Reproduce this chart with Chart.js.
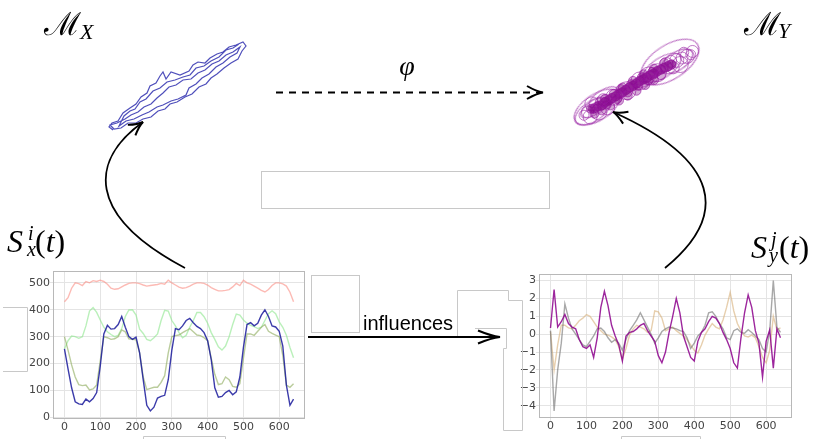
<!DOCTYPE html>
<html>
<head>
<meta charset="utf-8">
<script src="https://cdn.jsdelivr.net/npm/chart.js@4.4.1/dist/chart.umd.min.js"></script>
<style>
  html, body { margin: 0; padding: 0; background: #fff; }
  #page { position: relative; width: 818px; height: 439px; overflow: hidden; }
  canvas { position: absolute; display: block; }
  #overlay { position: absolute; left: 0; top: 0; }
</style>
</head>
<body>
<div id="page">
  <canvas id="embedX" width="165" height="115" style="left:95px;top:30px"></canvas>
  <canvas id="embedY" width="160" height="110" style="left:560px;top:30px"></canvas>
  <canvas id="seriesX" width="312" height="177" style="left:0;top:262px"></canvas>
  <canvas id="seriesY" width="313" height="177" style="left:505px;top:262px"></canvas>

  <svg id="overlay" width="818" height="439">
    <g fill="none" stroke="#c8c8c8" stroke-width="1">
      <rect x="261.5" y="171.5" width="288" height="37"/>
      <rect x="311.5" y="275.5" width="48" height="57"/>
      <polyline points="475,328.5 506.5,328.5 506.5,348.5 503.5,348.5 503.5,430.5 522.5,430.5 522.5,300.5 508.5,300.5 508.5,290.5 457.5,290.5 457.5,337"/>
      <polyline points="3,307.5 27.5,307.5 27.5,371.5 3,371.5"/>
      <polyline points="143.5,439 143.5,436.5 225.5,436.5 225.5,439"/>
      <polyline points="621.5,439 621.5,436.5 700.5,436.5 700.5,439"/>
    </g>
    <g id="arrows" fill="none" stroke="#000" stroke-width="2" stroke-linecap="butt">
      <line x1="276" y1="92.5" x2="541" y2="92.5" stroke-dasharray="7 6"/>
      <line x1="308" y1="337" x2="498" y2="337"/>
      <path d="M185 268 C 85 215, 90 160, 143 122" stroke-width="1.8"/>
      <path d="M665 268 C 730 215, 720 160, 613 112" stroke-width="1.8"/>
    </g>
    <g font-family="Liberation Serif" font-style="italic" fill="#000">
      <text x="44" y="35" font-family="DejaVu Serif" font-style="normal" font-size="32">ℳ</text>
      <text x="80" y="39" font-size="22">X</text>
      <text x="744" y="35" font-family="DejaVu Serif" font-style="normal" font-size="32">ℳ</text>
      <text x="778" y="38" font-size="22">Y</text>
      <text x="407" y="75" text-anchor="middle" font-size="28">φ</text>

      <text x="7" y="252" font-size="32">S</text>
      <text x="28" y="240" font-size="20">i</text>
      <text x="27" y="256" font-size="20">x</text>
      <text x="35" y="252" font-size="32"><tspan font-style="normal">(</tspan>t<tspan font-style="normal">)</tspan></text>

      <text x="751" y="258" font-size="32">S</text>
      <text x="771" y="246" font-size="20">j</text>
      <text x="769" y="262" font-size="20">y</text>
      <text x="779" y="258" font-size="32"><tspan font-style="normal">(</tspan>t<tspan font-style="normal">)</tspan></text>

      <text x="363" y="329.5" font-family="Liberation Sans" font-style="normal" font-size="20">influences</text>
    </g>
  </svg>
</div>

<script>
// sample times shared by every series
const steps = [0,10,20,30,40,50,60,70,80,90,100,110,120,130,140,150,160,170,180,190,
  200,210,220,230,240,250,260,270,280,290,300,310,320,330,340,350,360,370,380,390,
  400,410,420,430,440,450,460,470,480,490,500,510,520,530,540,550,560,570,580,590,
  600,610,620,630,640];
const xTicks = [0,100,200,300,400,500,600];

// source signals S_x
const sxRed = [430,445,480,500,497,490,505,500,508,505, 510,505,495,480,476,478,485,492,498,500,
  500,497,492,488,490,492,494,498,495,510, 500,492,484,480,482,488,495,500,500,498,
  492,482,476,470,470,472,475,485,498,490, 510,500,495,488,480,472,466,475,490,500,
  500,496,488,465,430];
const sxLight = [255,285,302,300,294,300,340,395,408,390, 362,335,318,308,300,305,330,375,399,400,
  380,328,312,290,285,296,310,360,398,395, 360,340,315,296,305,335,360,390,390,374,
  350,315,290,262,250,265,300,345,384,380, 362,350,342,337,330,335,360,385,396,385,
  355,335,305,260,222];
const sxOlive = [300,250,195,150,122,118,120,102,106,120, 210,300,296,290,292,300,325,318,292,290,
  288,240,150,103,108,112,112,130,155,240, 300,304,306,315,322,330,318,306,304,296,
  285,220,160,122,125,150,140,115,112,125, 220,310,310,305,320,335,345,320,312,306,
  300,230,120,112,125];
const sxBlue = [255,180,110,58,50,48,68,58,70,92, 190,310,342,328,330,345,375,335,300,290,
  298,240,140,45,24,38,72,78,82,140, 250,330,326,340,360,368,352,338,330,315,
  285,215,110,75,78,92,100,84,95,150, 260,345,352,340,350,380,400,375,340,336,
  320,265,120,45,68];

// target signals S_y
const syPurple = [0.35,2.5,0.4,0.7,1.1,0.6,0.4,0.3,-0.3,-0.7, -0.8,-0.6,-1.3,-0.2,1.5,2.4,1.6,0.5,-0.1,-0.6,
  -1.5,-0.1,0.1,0.15,0.3,0.5,0.6,0.2,-0.1,-0.4, -1.2,-1.6,-1.0,0.1,1.0,2.0,1.2,-0.1,-0.7,-1.3,
  -1.5,-0.4,0.1,0.3,0.7,1.0,0.9,0.6,0.1,-0.3, -0.8,-1.6,-1.9,-0.2,1.2,2.2,1.5,0.2,-0.5,-2.4,
  -0.4,0.25,-1.9,0.3,-0.2];
const syGray = [0.2,-4.3,-2.0,-0.5,1.7,0.9,0.3,0.0,-0.3,-0.6, -0.7,-0.4,-0.1,0.3,0.35,0.15,-0.2,-0.45,-0.3,-0.5,
  -0.9,-0.3,0.2,0.5,0.8,1.2,0.8,0.4,0.0,-0.5, -0.2,0.15,0.3,0.4,0.35,0.3,0.2,0.15,-0.2,-0.8,
  -0.5,-0.1,0.1,0.5,1.2,1.25,1.0,0.6,0.3,-0.2, -0.3,0.2,0.3,0.1,0.05,0.25,0.1,-0.1,-0.3,-0.8,
  -1.0,0.2,3.0,0.4,0.1];
const syTan = [0.15,-2.0,-0.6,0.5,0.5,0.35,0.3,0.5,0.75,0.9, 1.1,1.0,0.7,0.4,0.2,0.0,-0.05,-0.15,-0.3,-0.7,
  -1.4,-0.8,-0.05,0.3,0.5,0.4,0.3,0.1,0.2,1.3, 1.25,0.9,0.2,0.3,0.4,0.2,0.05,-0.1,-0.3,-0.6,
  -0.9,-1.05,-0.6,-0.05,0.3,0.6,0.4,0.3,0.8,1.5, 2.35,1.3,0.6,0.2,-0.1,-0.15,-0.05,-0.2,-0.7,-1.3,
  -1.6,-0.9,1.0,0.25,0.35];

// delay embedding of X (trajectory)
const embX = [1.8,1.4,1.7,2.3,2.8,3.5,4.1,4.6,5.2,5.5, 6.1,6.5,6.8,7.1,7.6,8.5,9.4,9.8,10.3,11.0,
  11.5,12.2,12.8,13.4,14.1,14.8,15.1,14.7,14.3,13.6, 12.9,12.2,11.6,11.1,10.4,9.7,9.0,8.2,7.5,7.0,
  6.3,5.6,4.8,4.1,3.3,2.6,1.9,1.5,2.2,3.0, 3.6,4.3,4.9,5.6,6.2,6.8,7.4,8.1,8.8,9.6,
  10.3,11.0,11.7,12.4,13.1,13.8,14.5,14.2,13.5,12.8, 12.1,11.4,10.7,10.1,
  9.4,9.1,8.3,7.6,6.8,6.2,5.4,4.7,3.9,3.1,2.4,
  2.9,3.5,4.0,4.5,5.1,5.8,6.5,7.2,8.0,8.8,9.5,10.1,10.9,11.6,12.4,13.1,13.8,14.4];
const embY = [1.5,1.8,2.2,2.4,3.2,3.7,4.1,4.8,5.2,5.9, 6.2,6.9,7.3,6.6,7.3,7.0,7.4,8.0,8.3,8.2,
  8.7,9.1,9.3,9.8,10.0,10.3,9.9,9.4,8.6,8.2, 7.7,7.1,6.7,6.1,5.8,5.1,4.8,4.3,4.1,3.6,
  3.4,2.8,2.6,2.2,2.2,1.7,1.6,2.0,2.2,2.6, 3.0,3.3,3.8,4.1,4.7,5.2,5.8,6.0,6.5,6.6,
  7.2,7.5,8.1,8.4,9.0,9.3,9.8,9.2,8.8,8.2, 7.8,7.1,6.7,6.1,
  5.7,5.0,4.6,4.4,4.0,3.8,3.3,3.0,2.6,2.4,1.9,
  2.9,3.4,3.6,4.3,4.6,5.4,5.7,6.3,6.5,6.8,7.0,7.7,7.9,8.4,8.8,9.5,9.7,10.1];

// embedding of Y: trace through the core, scattered states, rings and spread ellipses
const traceX = [2.6,3.2,3.6,4.0,4.4,4.8,5.2,5.6,6.0,6.4,6.8,7.2,7.6,8.0,8.4,8.8,9.2,9.6,10.0,10.4,10.8,11.2,11.6];
const traceY = [2.6,2.9,3.0,3.4,3.6,3.9,4.1,4.4,4.6,4.9,5.2,5.4,5.7,6.0,6.2,6.4,6.7,6.9,7.2,7.4,7.6,7.8,8.0];
const coreX = [2.8,3.2,3.6,4.0,4.4,4.8,5.2,5.6,6.0,6.4,6.8,7.2,7.6,8.0,8.4,8.8,9.2,9.6,10.0,10.4,10.8,11.2,11.6,
  4.2,5.4,6.6,7.8,9.0,5.8,7.0,8.2,9.4,
  3.6,4.6,5.6,6.6,7.6,8.6,9.6,10.4, 4.0,5.0,6.0,7.2,8.4,9.6,10.8, 2.8,2.4,3.4];
const coreY = [2.6,2.9,3.0,3.4,3.6,3.9,4.1,4.4,4.6,4.9,5.2,5.4,5.7,6.0,6.2,6.4,6.7,6.9,7.2,7.4,7.6,7.8,8.0,
  3.1,3.8,4.6,5.4,6.1,5.0,5.6,6.4,7.1,
  2.4,3.0,3.6,4.2,4.8,5.5,6.1,6.7, 3.8,4.4,5.2,6.0,6.8,7.5,8.2, 2.0,2.6,3.4];
const ringX = [2.0,2.5,3.3,3.8,1.6,2.3,4.3, 11.5,12.2,12.8,13.4,13.8,12.6,11.0,11.8,13.0, 10.0,9.0,8.0,6.5,5.0,14.0];
const ringY = [2.2,3.2,2.2,3.7,1.8,1.6,2.7, 8.4,8.5,8.8,9.0,9.2,8.0,8.0,7.6,9.5, 7.0,6.6,6.0,4.8,4.0,9.6];
const ringR = [6,7,8,6,5,7,7, 6,7,6,7,5,8,7,6,5, 9,9,9,9,8,6];
const ellX = [11.4,3.1,3.0,12.2,3.8,8.7,10.5,2.6];
const ellY = [8.3,2.8,2.9,8.4,4.0,6.2,7.6,2.3];
const spreadMajor = [33,26,18,18,16,12,22,20];
const spreadMinor = [17,13,7,9,7,6,10,10];

const pts = (xs, ys) => xs.map((x, i) => ({ x: x, y: ys[i] }));

// box round the plot area
const frame = {
  id: 'frame',
  afterDraw(chart) {
    const a = chart.chartArea, ctx = chart.ctx;
    ctx.save();
    ctx.strokeStyle = '#b8b8b8';
    ctx.lineWidth = 1;
    ctx.strokeRect(Math.round(a.left) + 0.5, Math.round(a.top) + 0.5,
                   Math.round(a.width) - 1, Math.round(a.height) - 1);
    ctx.restore();
  }
};

const tickFont = { family: 'DejaVu Sans', size: 11 };
const minus = v => String(v).replace('-', '\u2212');

function seriesChart(id, datasets, y, yWidth, xHeight, pad) {
  return new Chart(document.getElementById(id), {
    type: 'line',
    data: { datasets: datasets },
    options: {
      responsive: false,
      animation: false,
      layout: { padding: pad },
      plugins: { legend: { display: false }, tooltip: { enabled: false } },
      elements: { point: { radius: 0 }, line: { borderWidth: 1.4, tension: 0 } },
      scales: {
        x: {
          type: 'linear', min: -32, max: 672,
          afterBuildTicks: s => { s.ticks = xTicks.map(v => ({ value: v })); },
          ticks: { font: tickFont, color: '#444', padding: -1, maxRotation: 0 },
          grid: { color: '#e4e4e4', tickLength: 3 },
          border: { display: false },
          afterFit: s => { s.height = xHeight; }
        },
        y: {
          min: y.min, max: y.max,
          afterBuildTicks: s => { s.ticks = y.ticks.map(v => ({ value: v })); },
          ticks: { font: tickFont, color: '#444', padding: 0, callback: minus },
          grid: { color: '#e4e4e4', tickLength: 3 },
          border: { display: false },
          afterFit: s => { s.width = yWidth; }
        }
      }
    },
    plugins: [frame]
  });
}

function line(xs, ys, color) {
  return { data: pts(xs, ys), borderColor: color, fill: false };
}

seriesChart('seriesX', [
  line(steps, sxBlue, 'rgba(25,25,155,0.85)'),
  line(steps, sxOlive, 'rgba(140,170,90,0.6)'),
  line(steps, sxLight, 'rgba(140,230,140,0.6)'),
  line(steps, sxRed, 'rgba(250,140,130,0.6)')
], { min: -6, max: 544, ticks: [0, 100, 200, 300, 400, 500] }, 53, 20,
   { left: 0, top: 9, right: 7, bottom: 0 });

seriesChart('seriesY', [
  line(steps, syPurple, 'rgba(140,0,140,0.85)'),
  line(steps, syGray, 'rgba(110,110,110,0.6)'),
  line(steps, syTan, 'rgba(215,175,120,0.6)')
], { min: -4.69, max: 3.37, ticks: [-4, -3, -2, -1, 0, 1, 2, 3] }, 34, 21,
   { left: 0, top: 12, right: 26, bottom: 0 });

// embeddings: no axes, plot area fills the canvas
function embedOptions(xMax, yMax) {
  return {
    responsive: false,
    animation: false,
    layout: { padding: 0 },
    plugins: { legend: { display: false }, tooltip: { enabled: false } },
    scales: {
      x: { type: 'linear', min: 0, max: xMax, display: false },
      y: { type: 'linear', min: 0, max: yMax, display: false }
    }
  };
}

new Chart(document.getElementById('embedX'), {
  type: 'scatter',
  data: { datasets: [{
    data: pts(embX, embY), showLine: true, pointRadius: 0,
    borderColor: 'rgba(35,35,170,0.8)', borderWidth: 1.2, tension: 0, clip: false
  }] },
  options: embedOptions(16.5, 11.5)
});

function ellipseSprite(a, b) {
  const c = document.createElement('canvas');
  c.width = 2 * a + 4;
  c.height = 2 * b + 4;
  const g = c.getContext('2d');
  g.strokeStyle = 'rgba(160,50,170,0.7)';
  g.lineWidth = 1.2;
  g.beginPath();
  g.ellipse(c.width / 2, c.height / 2, a, b, 0, 0, Math.PI * 2);
  g.stroke();
  return c;
}

new Chart(document.getElementById('embedY'), {
  type: 'scatter',
  data: { datasets: [
    { data: pts(coreX, coreY), pointRadius: 4.5, borderWidth: 1,
      borderColor: 'rgba(150,20,160,0.6)', backgroundColor: 'rgba(135,10,140,0.35)', clip: false },
    { data: pts(traceX, traceY), showLine: true, pointRadius: 0, borderWidth: 10,
      borderColor: 'rgba(135,10,140,0.6)', borderCapStyle: 'round', clip: false },
    { type: 'bubble', data: ringX.map((x, i) => ({ x: x, y: ringY[i], r: ringR[i] })),
      backgroundColor: 'rgba(0,0,0,0)', borderColor: 'rgba(160,50,170,0.65)', borderWidth: 1, clip: false },
    { data: pts(ellX, ellY), pointStyle: spreadMajor.map((a, i) => ellipseSprite(a, spreadMinor[i])),
      rotation: -33, pointRadius: 3, clip: false }
  ] },
  options: embedOptions(16, 11)
});

// arrow heads on the overlay
function head(x, y, angle, len, half) {
  const ux = Math.cos(angle), uy = Math.sin(angle);
  const nx = -uy, ny = ux;
  const b1 = [x - len * ux + half * nx, y - len * uy + half * ny];
  const b2 = [x - len * ux - half * nx, y - len * uy - half * ny];
  const c1 = [x - 0.4 * len * ux + 0.15 * half * nx, y - 0.4 * len * uy + 0.15 * half * ny];
  const c2 = [x - 0.4 * len * ux - 0.15 * half * nx, y - 0.4 * len * uy - 0.15 * half * ny];
  return 'M' + b1.join(' ') + ' Q' + c1.join(' ') + ' ' + x + ' ' + y +
         ' Q' + c2.join(' ') + ' ' + b2.join(' ');
}
const heads = [
  head(543, 92.5, 0, 16, 6.5),
  head(500, 337, 0, 22, 6.5),
  head(143, 122, Math.atan2(-38, 53), 14, 6.5),
  head(613, 112, Math.atan2(-48, -107), 14, 6.5)
];
const g = document.getElementById('arrows');
heads.forEach(d => {
  const p = document.createElementNS('http://www.w3.org/2000/svg', 'path');
  p.setAttribute('d', d);
  g.appendChild(p);
});
</script>
</body>
</html>
